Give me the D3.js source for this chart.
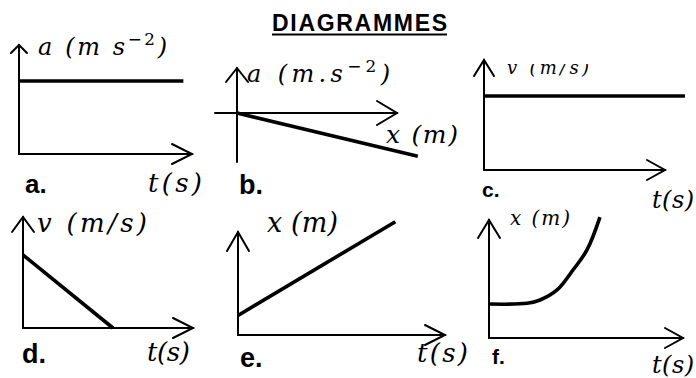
<!DOCTYPE html>
<html>
<head>
<meta charset="utf-8">
<script src="https://cdn.jsdelivr.net/npm/d3@7"></script>
<style>
  html, body { margin: 0; padding: 0; background: #fff; overflow: hidden; }
  svg { display: block; }
</style>
</head>
<body>
<svg id="chart" width="696" height="378"></svg>
<script>
// ---- content of the six motion diagrams ----
const title = "DIAGRAMMES";
const panelLetters = ["a.", "b.", "c.", "d.", "e.", "f."];

// vertical axis titles, as [text, superscript, tail] pieces
const yTitleMain = ["a (m s", "a (m.s", "v (m/s)", "v (m/s)", "x (m)", "x (m)"];
const yTitleSup  = ["−2", "−2", "", "", "", ""];
const yTitleTail = [")", ")", "", "", "", ""];
const xTitles    = ["t(s)", "x (m)", "t(s)", "t(s)", "t(s)", "t(s)"];

// series (axis units: 10 = arrow tip)
const aTime = [0, 9.5];    const aAcc = [6.7, 6.7];     // constant acceleration
const bPos  = [0, 11.3];   const bAcc = [0, -9.6];      // a decreasing with x
const cTime = [0, 11.1];   const cVel = [6.73, 6.73];   // constant velocity
const dTime = [0, 5.29];   const dVel = [6.58, 0];      // uniformly decelerated
const eTime = [0, 7.6];    const ePos = [1.9, 11.0];    // uniform motion
const fTime = [0, 1.96, 2.63, 3.51, 4.33, 5.05, 5.72];  // accelerated from rest
const fPos  = [2.88, 2.94, 3.22, 4.07, 5.76, 7.46, 10.25];

const seriesX = [aTime, bPos, cTime, dTime, eTime, fTime];
const seriesY = [aAcc, bAcc, cVel, dVel, ePos, fPos];

// ---- layout of each small frame ----
const geo = [
  { ox: 19,  oy: 154, xTip: 192, yTip: 45,  xLo: 0,      yLo: 0,      xa: [20, 10], ya: [8, 8],   curved: false },
  { ox: 237, oy: 113, xTip: 397, yTip: 68,  xLo: -1.375, yLo: -10.87, xa: [20, 12], ya: [11, 14], curved: false },
  { ox: 484, oy: 170, xTip: 665, yTip: 60,  xLo: 0,      yLo: 0,      xa: [18, 10], ya: [10, 16], curved: false },
  { ox: 23,  oy: 328, xTip: 193, yTip: 217, xLo: 0,      yLo: 0,      xa: [20, 10], ya: [11, 15], curved: false },
  { ox: 238, oy: 335, xTip: 445, yTip: 232, xLo: 0,      yLo: 0,      xa: [20, 10], ya: [11, 19], curved: false },
  { ox: 489, oy: 338, xTip: 683, yTip: 220, xLo: 0,      yLo: 0,      xa: [18, 10], ya: [11, 18], curved: true  }
];
// label boxes: [x, baseline, width, font size]
const yLabelBox = [[38, 55, 129, 24], [247, 82, 143, 24], [507, 74, 82, 18],
                   [37, 232, 110, 26], [267, 232, 71, 27], [510, 225, 60, 20]];
const xLabelBox = [[148, 192, 54, 26], [386, 143, 72, 25], [652, 208, 42, 24],
                   [147, 361, 43, 26], [417, 362, 51, 26], [652, 373, 42, 24]];
const letterBox = [[25, 193, 26], [239, 194, 27], [482, 197, 21],
                   [22, 363, 27], [240, 367, 27], [492, 364, 21]];

const SERIF = "'DejaVu Serif', 'Liberation Serif', serif";
const SANS = "'Liberation Sans', Arial, sans-serif";

const svg = d3.select("#chart");
svg.append("rect").attr("width", 696).attr("height", 378).attr("fill", "#fff");

// the velocity title of frame c only shows its lower part
const defs = svg.append("defs");
defs.append("clipPath").attr("id", "clipC")
  .append("rect").attr("x", 495).attr("y", 64).attr("width", 120).attr("height", 20);

// spreads a text element so that its run spans the requested width
function fitWidth(sel, width) {
  const node = sel.node();
  const n = node.getNumberOfChars();
  const natural = node.getComputedTextLength();
  if (n > 1) sel.attr("letter-spacing", ((width - natural) / (n - 1)).toFixed(2));
}

// title
const t = svg.append("text")
  .attr("x", 272).attr("y", 31)
  .attr("font-family", SANS).attr("font-weight", "bold").attr("font-size", 23)
  .attr("fill", "#000").text(title);
fitWidth(t, 175);
svg.append("line").attr("x1", 272).attr("x2", 447).attr("y1", 34.5).attr("y2", 34.5)
  .attr("stroke", "#000").attr("stroke-width", 2);

geo.forEach((g, i) => {
  const x = d3.scaleLinear().domain([0, 10]).range([g.ox, g.xTip]);
  const y = d3.scaleLinear().domain([0, 10]).range([g.oy, g.yTip]);
  const p = svg.append("g").attr("class", "panel-" + panelLetters[i][0]);

  // axes with open arrowheads
  const axis = p.append("g").attr("stroke", "#000").attr("stroke-width", 2)
    .attr("fill", "none").attr("stroke-linecap", "round").attr("stroke-linejoin", "miter");
  axis.append("line").attr("x1", x(g.xLo)).attr("x2", x(10)).attr("y1", y(0)).attr("y2", y(0));
  axis.append("line").attr("x1", x(0)).attr("x2", x(0)).attr("y1", y(g.yLo)).attr("y2", y(10));
  axis.append("path").attr("d",
    `M${x(10) - g.xa[0]},${y(0) - g.xa[1]}L${x(10)},${y(0)}L${x(10) - g.xa[0]},${y(0) + g.xa[1]}`);
  axis.append("path").attr("d",
    `M${x(0) - g.ya[0]},${y(10) + g.ya[1]}L${x(0)},${y(10)}L${x(0) + g.ya[0]},${y(10) + g.ya[1]}`);

  // the graph itself
  const pts = seriesX[i].map((v, k) => [v, seriesY[i][k]]);
  const line = d3.line().x(d => x(d[0])).y(d => y(d[1]))
    .curve(g.curved ? d3.curveCatmullRom.alpha(0.5) : d3.curveLinear);
  p.append("path").attr("d", line(pts)).attr("fill", "none")
    .attr("stroke", "#000").attr("stroke-width", 3.6).attr("stroke-linecap", "butt");

  // vertical axis title
  const yb = yLabelBox[i];
  const yt = p.append("text").attr("x", yb[0]).attr("y", yb[1])
    .attr("font-family", SERIF).attr("font-style", "italic").attr("font-size", yb[3])
    .attr("fill", "#000");
  yt.append("tspan").text(yTitleMain[i]);
  if (yTitleSup[i]) {
    yt.append("tspan").attr("dy", -yb[3] * 0.42).attr("font-size", yb[3] * 0.7)
      .attr("font-style", "normal").text(yTitleSup[i]);
    yt.append("tspan").attr("dy", yb[3] * 0.42).text(yTitleTail[i]);
  }
  fitWidth(yt, yb[2]);
  if (i === 2) yt.attr("clip-path", "url(#clipC)");

  // horizontal axis title
  const xb = xLabelBox[i];
  const xt = p.append("text").attr("x", xb[0]).attr("y", xb[1])
    .attr("font-family", SERIF).attr("font-style", "italic").attr("font-size", xb[3])
    .attr("fill", "#000").text(xTitles[i]);
  fitWidth(xt, xb[2]);

  // panel letter
  const lb = letterBox[i];
  p.append("text").attr("x", lb[0]).attr("y", lb[1])
    .attr("font-family", SANS).attr("font-weight", "bold").attr("font-size", lb[2])
    .attr("fill", "#000").text(panelLetters[i]);
});
</script>
</body>
</html>
